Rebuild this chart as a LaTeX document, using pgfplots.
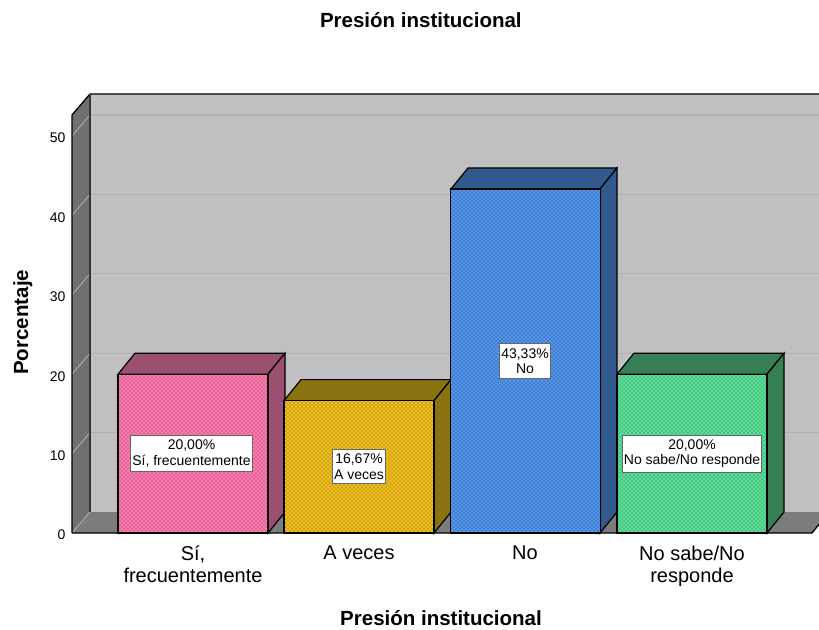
\documentclass[border=0pt]{standalone}
\usepackage{fontspec}
\setmainfont{Liberation Sans}
\usepackage{pgfplots}
\pgfplotsset{compat=1.18}
\usetikzlibrary{patterns}

% fine staggered dots of the bar fronts
\pgfdeclarepatternformonly{bardots}{\pgfqpoint{-1pt}{-1pt}}{\pgfqpoint{3pt}{3pt}}{\pgfqpoint{4pt}{4pt}}{
  \pgfpathrectangle{\pgfqpoint{-0.7pt}{-0.7pt}}{\pgfqpoint{1.4pt}{1.4pt}}
  \pgfpathrectangle{\pgfqpoint{1.3pt}{1.3pt}}{\pgfqpoint{1.4pt}{1.4pt}}
  \pgfusepath{fill}
}

\definecolor{wallback}{HTML}{C0C0C0}
\definecolor{wallside}{HTML}{707070}
\definecolor{wallfloor}{HTML}{7C7C7C}
\definecolor{gridback}{HTML}{B0B0B0}
\definecolor{gridside}{HTML}{A8A8A8}
\definecolor{pinkf}{HTML}{FF78AE}
\definecolor{pinkd}{HTML}{B85080}
\definecolor{pinks}{HTML}{9C5070}
\definecolor{goldf}{HTML}{F2C01E}
\definecolor{goldd}{HTML}{A08010}
\definecolor{golds}{HTML}{8B7210}
\definecolor{bluef}{HTML}{5296EC}
\definecolor{blued}{HTML}{3264A8}
\definecolor{blues}{HTML}{335A8F}
\definecolor{greenf}{HTML}{5CE09A}
\definecolor{greend}{HTML}{32985E}
\definecolor{greens}{HTML}{377F55}

\pgfplotsset{
  front/.style n args={2}{ybar, bar width=150pt, bar shift=0pt, draw=black, line width=1.2pt,
    fill=#1, postaction={pattern=bardots, pattern color=#2}},
  face/.style={draw=black, line width=1.2pt, fill=#1},
}
\tikzset{lab/.style={fill=white, draw=gray!80!black, line width=0.9pt, align=center,
  font=\fontsize{14}{15.5}\selectfont, inner xsep=1.5pt, inner ysep=4.5pt}}

\begin{document}
\begin{tikzpicture}
\path[use as bounding box] (-72pt,-96pt) rectangle (747pt,533pt);
\begin{axis}[
    at={(0pt,0pt)}, anchor=south west,
    scale only axis=true, width=747pt, height=439pt,
    xmin=72, xmax=819, ymin=0, ymax=55.29,
    clip=false,
    axis line style={draw=none},
    major tick length=0pt,
    xtick pos=bottom, ytick pos=left,
    xtick={193,359,525,692},
    xticklabels={{Sí,\\frecuentemente},A veces,No,{No sabe/No\\responde}},
    ytick={0,10,20,30,40,50},
    /pgf/number format/assume math mode=true,
    yticklabel style={font=\fontsize{14}{16}\selectfont, xshift=-3pt, yshift=-2pt},
    xticklabel style={font=\fontsize{20}{22}\selectfont, align=center, yshift=-9pt, anchor=north},
    title={\bfseries Presión institucional},
    title style={font=\fontsize{20.5}{23}\selectfont, at={(axis description cs:0.467,1.155)}, anchor=center},
    xlabel={\bfseries Presión institucional},
    xlabel style={font=\fontsize{20.5}{23}\selectfont, at={(axis description cs:0.494,-0.1936)}, anchor=center},
    ylabel={\bfseries Porcentaje},
    ylabel style={font=\fontsize{20.5}{23}\selectfont, at={(axis description cs:-0.066,0.48)}, anchor=center},
  ]

% walls and floor
\addplot[fill=wallback, draw=none] coordinates {(90,2.645) (819,2.645) (819,55.29) (90,55.29)} -- cycle;
\addplot[fill=wallfloor, draw=none] coordinates {(72,0) (812,0) (819,1.09) (819,2.645) (90,2.645)} -- cycle;
\addplot[fill=wallside, draw=none] coordinates {(72,0) (90,2.645) (90,55.29) (72,52.65)} -- cycle;

% grid on back wall and side wall
\addplot[gridback, line width=1.3pt] coordinates {(90,12.645) (819,12.645)};
\addplot[gridback, line width=1.3pt] coordinates {(90,22.645) (819,22.645)};
\addplot[gridback, line width=1.3pt] coordinates {(90,32.645) (819,32.645)};
\addplot[gridback, line width=1.3pt] coordinates {(90,42.645) (819,42.645)};
\addplot[gridback, line width=1.3pt] coordinates {(90,52.645) (819,52.645)};
\addplot[gridside, line width=1pt] coordinates {(72,0) (90,2.645)};
\addplot[gridside, line width=1pt] coordinates {(72,10) (90,12.645)};
\addplot[gridside, line width=1pt] coordinates {(72,20) (90,22.645)};
\addplot[gridside, line width=1pt] coordinates {(72,30) (90,32.645)};
\addplot[gridside, line width=1pt] coordinates {(72,40) (90,42.645)};
\addplot[gridside, line width=1pt] coordinates {(72,50) (90,52.645)};

% wall edges
\addplot[black, line width=1.3pt] coordinates {(72,0) (72,52.65) (90,55.29) (819,55.29)};
\addplot[black!80, line width=1.3pt] coordinates {(90,55.29) (90,2.645)};
\addplot[black, line width=1.3pt] coordinates {(72,0) (812,0) (819,1.09)};

% bar 1
\addplot[face=pinks] coordinates {(118,20) (135,22.645) (285,22.645) (268,20)} -- cycle;
\addplot[face=pinks] coordinates {(268,0) (285,2.645) (285,22.645) (268,20)} -- cycle;
\addplot[front={pinkf}{pinkd}] coordinates {(193,20)};
% bar 2
\addplot[face=golds] coordinates {(284,16.67) (301,19.315) (451,19.315) (434,16.67)} -- cycle;
\addplot[face=golds] coordinates {(434,0) (451,2.645) (451,19.315) (434,16.67)} -- cycle;
\addplot[front={goldf}{goldd}] coordinates {(359,16.67)};
% bar 3
\addplot[face=blues] coordinates {(451,43.33) (468,45.975) (617,45.975) (600,43.33)} -- cycle;
\addplot[face=blues] coordinates {(600,0) (617,2.645) (617,45.975) (600,43.33)} -- cycle;
\addplot[front={bluef}{blued}] coordinates {(525.5,43.33)};
% bar 4
\addplot[face=greens] coordinates {(617,20) (634,22.645) (784,22.645) (767,20)} -- cycle;
\addplot[face=greens] coordinates {(767,0) (784,2.645) (784,22.645) (767,20)} -- cycle;
\addplot[front={greenf}{greend}] coordinates {(692,20)};

\node[lab] at (axis cs:191.5,10) {20,00\%\\Sí, frecuentemente};
\node[lab] at (axis cs:359,8.35) {16,67\%\\A veces};
\node[lab] at (axis cs:525,21.67) {43,33\%\\No};
\node[lab] at (axis cs:692,10) {20,00\%\\No sabe/No responde};
\end{axis}
\end{tikzpicture}
\end{document}
